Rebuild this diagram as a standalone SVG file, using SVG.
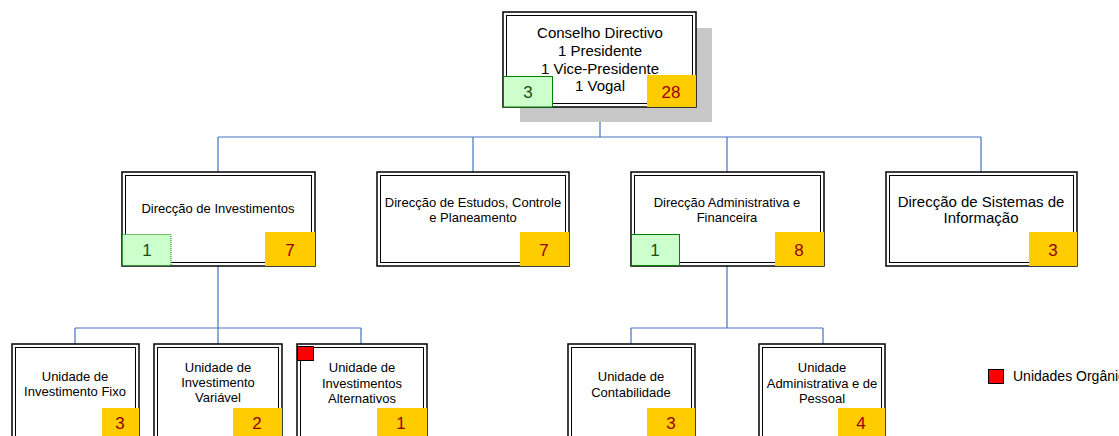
<svg xmlns="http://www.w3.org/2000/svg" width="1119" height="436" viewBox="0 0 1119 436">
  <style>
    .outer { fill: #ffffff; stroke: #000000; stroke-width: 1.5; }
    .inner { fill: none; stroke: #000000; stroke-width: 1; }
    .shadow { fill: #c8c8c8; }
    .lbl { font-family: "Liberation Sans", Arial, sans-serif; fill: #000000; text-anchor: middle; }
    .s14 { font-size: 15px; }
    .s12 { font-size: 13px; }
    .green { fill: #ccffcc; stroke: #008000; stroke-width: 1; }
    .green-dot { fill: #ccffcc; stroke: #008000; stroke-width: 1; stroke-dasharray: 1 1; }
    .gnum { font-family: "Liberation Sans", Arial, sans-serif; font-size: 17px; fill: #1a4d1a; text-anchor: middle; }
    .orange { fill: #ffcc00; }
    .onum { font-family: "Liberation Sans", Arial, sans-serif; font-size: 17px; fill: #990000; text-anchor: middle; }
    .wire { fill: none; stroke: #4472c4; stroke-width: 1.2; }
    .flag { fill: #ff0000; stroke: #000000; stroke-width: 1; }
  </style>

  <!-- connectors -->
  <g id="connectors">
    <path class="wire" d="M600 107 V137 M218 137 H981 M218 137 V172 M473 137 V172 M727 137 V172 M981 137 V172"/>
    <path class="wire" d="M218 266 V328 M75 328 H361 M75 328 V344 M218 328 V344 M361 328 V344"/>
    <path class="wire" d="M727 266 V328 M631 328 H823 M631 328 V344 M823 328 V344"/>
  </g>

  <!-- top level -->
  <g id="conselho-directivo">
    <rect class="shadow" x="520" y="28" width="192" height="94"/>
    <rect class="outer" x="503" y="12" width="193" height="95"/>
    <rect class="inner" x="506.5" y="15.5" width="186" height="88"/>
    <text class="lbl s14" x="600" y="38">Conselho Directivo</text>
    <text class="lbl s14" x="600" y="56">1 Presidente</text>
    <text class="lbl s14" x="600" y="74">1 Vice-Presidente</text>
    <text class="lbl s14" x="600" y="91">1 Vogal</text>
    <rect class="green" x="503.5" y="76.5" width="49" height="30.5"/>
    <text class="gnum" x="528" y="98">3</text>
    <rect class="orange" x="647" y="75" width="49" height="32"/>
    <text class="onum" x="671" y="98">28</text>
  </g>

  <!-- second level -->
  <g id="direccao-investimentos">
    <rect class="outer" x="122" y="172" width="193" height="94"/>
    <rect class="inner" x="125.5" y="175.5" width="186" height="87"/>
    <text class="lbl s12" x="218" y="213">Direcção de Investimentos</text>
    <rect class="green-dot" x="122.5" y="234.5" width="48.5" height="31"/>
    <text class="gnum" x="147" y="256">1</text>
    <rect class="orange" x="265" y="232" width="50" height="34"/>
    <text class="onum" x="290" y="256">7</text>
  </g>

  <g id="direccao-estudos">
    <rect class="outer" x="377" y="172" width="192" height="94"/>
    <rect class="inner" x="380.5" y="175.5" width="185" height="87"/>
    <text class="lbl s12" x="473" y="207">Direcção de Estudos, Controle</text>
    <text class="lbl s12" x="473" y="222">e Planeamento</text>
    <rect class="orange" x="520" y="232" width="49" height="34"/>
    <text class="onum" x="544" y="256">7</text>
  </g>

  <g id="direccao-administrativa">
    <rect class="outer" x="631" y="172" width="193" height="94"/>
    <rect class="inner" x="634.5" y="175.5" width="186" height="87"/>
    <text class="lbl s12" x="727" y="207">Direcção Administrativa e</text>
    <text class="lbl s12" x="727" y="222">Financeira</text>
    <rect class="green" x="631.5" y="234.5" width="48" height="31"/>
    <text class="gnum" x="655" y="256">1</text>
    <rect class="orange" x="775" y="232" width="49" height="34"/>
    <text class="onum" x="799" y="256">8</text>
  </g>

  <g id="direccao-sistemas">
    <rect class="outer" x="886" y="172" width="191" height="94"/>
    <rect class="inner" x="889.5" y="175.5" width="184" height="87"/>
    <text class="lbl s14" x="981" y="207">Direcção de Sistemas de</text>
    <text class="lbl s14" x="981" y="223">Informação</text>
    <rect class="orange" x="1029" y="232" width="48" height="34"/>
    <text class="onum" x="1053" y="256">3</text>
  </g>

  <!-- third level -->
  <g id="unidade-investimento-fixo">
    <rect class="outer" x="12" y="344" width="127" height="100"/>
    <rect class="inner" x="15.5" y="347.5" width="120" height="100"/>
    <text class="lbl s12" x="75" y="381">Unidade de</text>
    <text class="lbl s12" x="75" y="396">Investimento Fixo</text>
    <rect class="orange" x="102" y="408" width="37" height="30"/>
    <text class="onum" x="120" y="429">3</text>
  </g>

  <g id="unidade-investimento-variavel">
    <rect class="outer" x="154" y="344" width="128" height="100"/>
    <rect class="inner" x="157.5" y="347.5" width="121" height="100"/>
    <text class="lbl s12" x="218" y="372">Unidade de</text>
    <text class="lbl s12" x="218" y="387">Investimento</text>
    <text class="lbl s12" x="218" y="402">Variável</text>
    <rect class="orange" x="233" y="408" width="49" height="30"/>
    <text class="onum" x="257" y="429">2</text>
  </g>

  <g id="unidade-investimentos-alternativos">
    <rect class="outer" x="297" y="344" width="130" height="100"/>
    <rect class="inner" x="300.5" y="347.5" width="123" height="100"/>
    <rect class="flag" x="297.5" y="346.5" width="16" height="14"/>
    <text class="lbl s12" x="362" y="372">Unidade de</text>
    <text class="lbl s12" x="362" y="388">Investimentos</text>
    <text class="lbl s12" x="362" y="403">Alternativos</text>
    <rect class="orange" x="377" y="408" width="50" height="30"/>
    <text class="onum" x="401" y="429">1</text>
  </g>

  <g id="unidade-contabilidade">
    <rect class="outer" x="568" y="344" width="127" height="100"/>
    <rect class="inner" x="571.5" y="347.5" width="120" height="100"/>
    <text class="lbl s12" x="631" y="381">Unidade de</text>
    <text class="lbl s12" x="631" y="397">Contabilidade</text>
    <rect class="orange" x="647" y="408" width="48" height="30"/>
    <text class="onum" x="671" y="429">3</text>
  </g>

  <g id="unidade-administrativa-pessoal">
    <rect class="outer" x="759" y="344" width="126" height="100"/>
    <rect class="inner" x="762.5" y="347.5" width="119" height="100"/>
    <text class="lbl s12" x="822" y="372">Unidade</text>
    <text class="lbl s12" x="822" y="388">Administrativa e de</text>
    <text class="lbl s12" x="822" y="403">Pessoal</text>
    <rect class="orange" x="838" y="408" width="47" height="30"/>
    <text class="onum" x="861" y="429">4</text>
  </g>

  <!-- legend -->
  <g id="legend">
    <rect class="flag" x="988.5" y="369.5" width="15" height="14"/>
    <text x="1013" y="381" font-family="Liberation Sans, Arial, sans-serif" font-size="14" fill="#000000">Unidades Orgânicas</text>
  </g>
</svg>
